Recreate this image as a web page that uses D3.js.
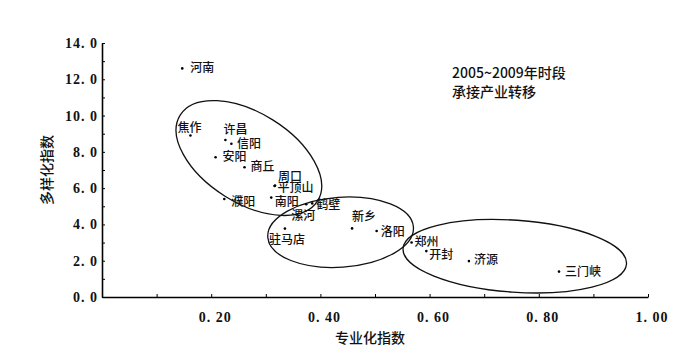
<!DOCTYPE html>
<html><head><meta charset="utf-8">
<script src="https://cdn.jsdelivr.net/npm/d3@7"></script>
<style>body{margin:0;background:#fff}</style>
</head><body>
<script>
const names = ["河南","焦作","许昌","信阳","安阳","商丘","周口","平顶山","濮阳","南阳","漯河","鹤壁","驻马店","新乡","洛阳","郑州","开封","济源","三门峡"];
const specialization = [0.147,0.162,0.226,0.237,0.208,0.261,0.317,0.316,0.224,0.310,0.374,0.385,0.335,0.458,0.503,0.567,0.594,0.672,0.837];
const diversification = [12.6,8.9,8.65,8.45,7.7,7.15,6.14,6.12,5.4,5.48,5.11,5.16,3.77,3.78,3.64,3.0,2.53,1.98,1.40];
const xTicks = [0.2,0.4,0.6,0.8,1.0];
const xTickLabels = ["0. 20","0. 40","0. 60","0. 80","1. 00"];
const yTicks = [0,2,4,6,8,10,12,14];
const yTickLabels = ["0. 0","2. 0","4. 0","6. 0","8. 0","10. 0","12. 0","14. 0"];
const titleLines = ["2005~2009年时段","承接产业转移"];
const xTitle = "专业化指数", yTitle = "多样化指数";
// groups (ellipses): center in data units
const groupCx = [0.269, 0.437, 0.756];
const groupCy = [7.66, 3.57, 2.25];

// layout: label offsets [dx, dy, anchor]
const labelOff = {
 "河南":[8,4,"start"],"焦作":[-1,-4,"middle"],"许昌":[-2,-6.5,"start"],"信阳":[5.5,4,"start"],
 "安阳":[7,3.5,"start"],"商丘":[6,4,"start"],"周口":[3,-5,"start"],"平顶山":[3,6.5,"start"],
 "濮阳":[7,7,"start"],"南阳":[3.5,8,"start"],"漯河":[-3,16,"middle"],"鹤壁":[4,5.5,"start"],
 "驻马店":[2,15,"middle"],"新乡":[0,-7,"start"],"洛阳":[4,5,"start"],"郑州":[3,3.5,"start"],
 "开封":[3,7.5,"start"],"济源":[5,3,"start"],"三门峡":[6,4,"start"]};
const ellStyle = [{rx:81,ry:45,rot:32},{rx:73,ry:35,rot:-4},{rx:112,ry:36,rot:4}];

const W=700,H=350;
const svg=d3.select("body").append("svg").attr("width",W).attr("height",H);
const x=d3.scaleLinear().domain([0,1]).range([102,648]);
const y=d3.scaleLinear().domain([0,14]).range([297,43]);
const serif="'Liberation Serif','Times New Roman',serif";
const cjk="'Noto Sans CJK SC','Noto Sans',sans-serif";

// axes
const gx=svg.append("g").attr("transform",`translate(0,${y(0)})`)
 .call(d3.axisBottom(x).tickValues(d3.range(1,11).map(d=>d/10)).tickSizeInner(-3).tickSizeOuter(0).tickFormat(""));
const gy=svg.append("g").attr("transform",`translate(${x(0)},0)`)
 .call(d3.axisLeft(y).tickValues(d3.range(0,15)).tickSizeInner(-3).tickSizeOuter(0).tickFormat(""));
[gx,gy].forEach(g=>{g.select(".domain").attr("stroke","#000").attr("stroke-width",1.6);g.selectAll(".tick line").attr("stroke","#000");});

svg.selectAll(".xl").data(xTicks).enter().append("text")
 .attr("x",d=>x(d)+4).attr("y",322).attr("text-anchor","middle")
 .attr("font-family",serif).attr("font-weight","bold").attr("font-size",14).attr("letter-spacing",1).attr("fill","#111")
 .text((d,i)=>xTickLabels[i]);
svg.selectAll(".yl").data(yTicks).enter().append("text")
 .attr("x",98).attr("y",d=>y(d)+5).attr("text-anchor","end")
 .attr("font-family",serif).attr("font-weight","bold").attr("font-size",14).attr("letter-spacing",1).attr("fill","#111")
 .text((d,i)=>yTickLabels[i]);

svg.append("text").attr("x",370).attr("y",343).attr("text-anchor","middle")
 .attr("font-family",cjk).attr("font-size",14).attr("font-weight",500).attr("fill","#111").text(xTitle);
svg.append("text").attr("transform","translate(52,170) rotate(-90)").attr("text-anchor","middle")
 .attr("font-family",cjk).attr("font-size",14).attr("font-weight",500).attr("fill","#111").text(yTitle);

// ellipses
svg.selectAll(".ell").data(groupCx).enter().append("ellipse")
 .attr("cx",0).attr("cy",0)
 .attr("rx",(d,i)=>ellStyle[i].rx).attr("ry",(d,i)=>ellStyle[i].ry)
 .attr("transform",(d,i)=>`translate(${x(d)},${y(groupCy[i])}) rotate(${ellStyle[i].rot})`)
 .attr("fill","none").attr("stroke","#111").attr("stroke-width",1.3);

// points
const pts=names.map((n,i)=>({n,x:specialization[i],y:diversification[i]}));
svg.selectAll(".pt").data(pts).enter().append("circle")
 .attr("cx",d=>x(d.x)).attr("cy",d=>y(d.y)).attr("r",1.3).attr("fill","#000");
svg.selectAll(".lb").data(pts).enter().append("text")
 .attr("x",d=>x(d.x)+labelOff[d.n][0]).attr("y",d=>y(d.y)+labelOff[d.n][1])
 .attr("text-anchor",d=>labelOff[d.n][2])
 .attr("font-family",cjk).attr("font-size",12).attr("font-weight",500).attr("fill","#111")
 .text(d=>d.n);

svg.selectAll(".tt").data(titleLines).enter().append("text")
 .attr("x",452).attr("y",(d,i)=>78+i*19)
 .attr("font-family",cjk).attr("font-size",14).attr("font-weight",500).attr("fill","#111")
 .text(d=>d);
</script>
</body></html>
